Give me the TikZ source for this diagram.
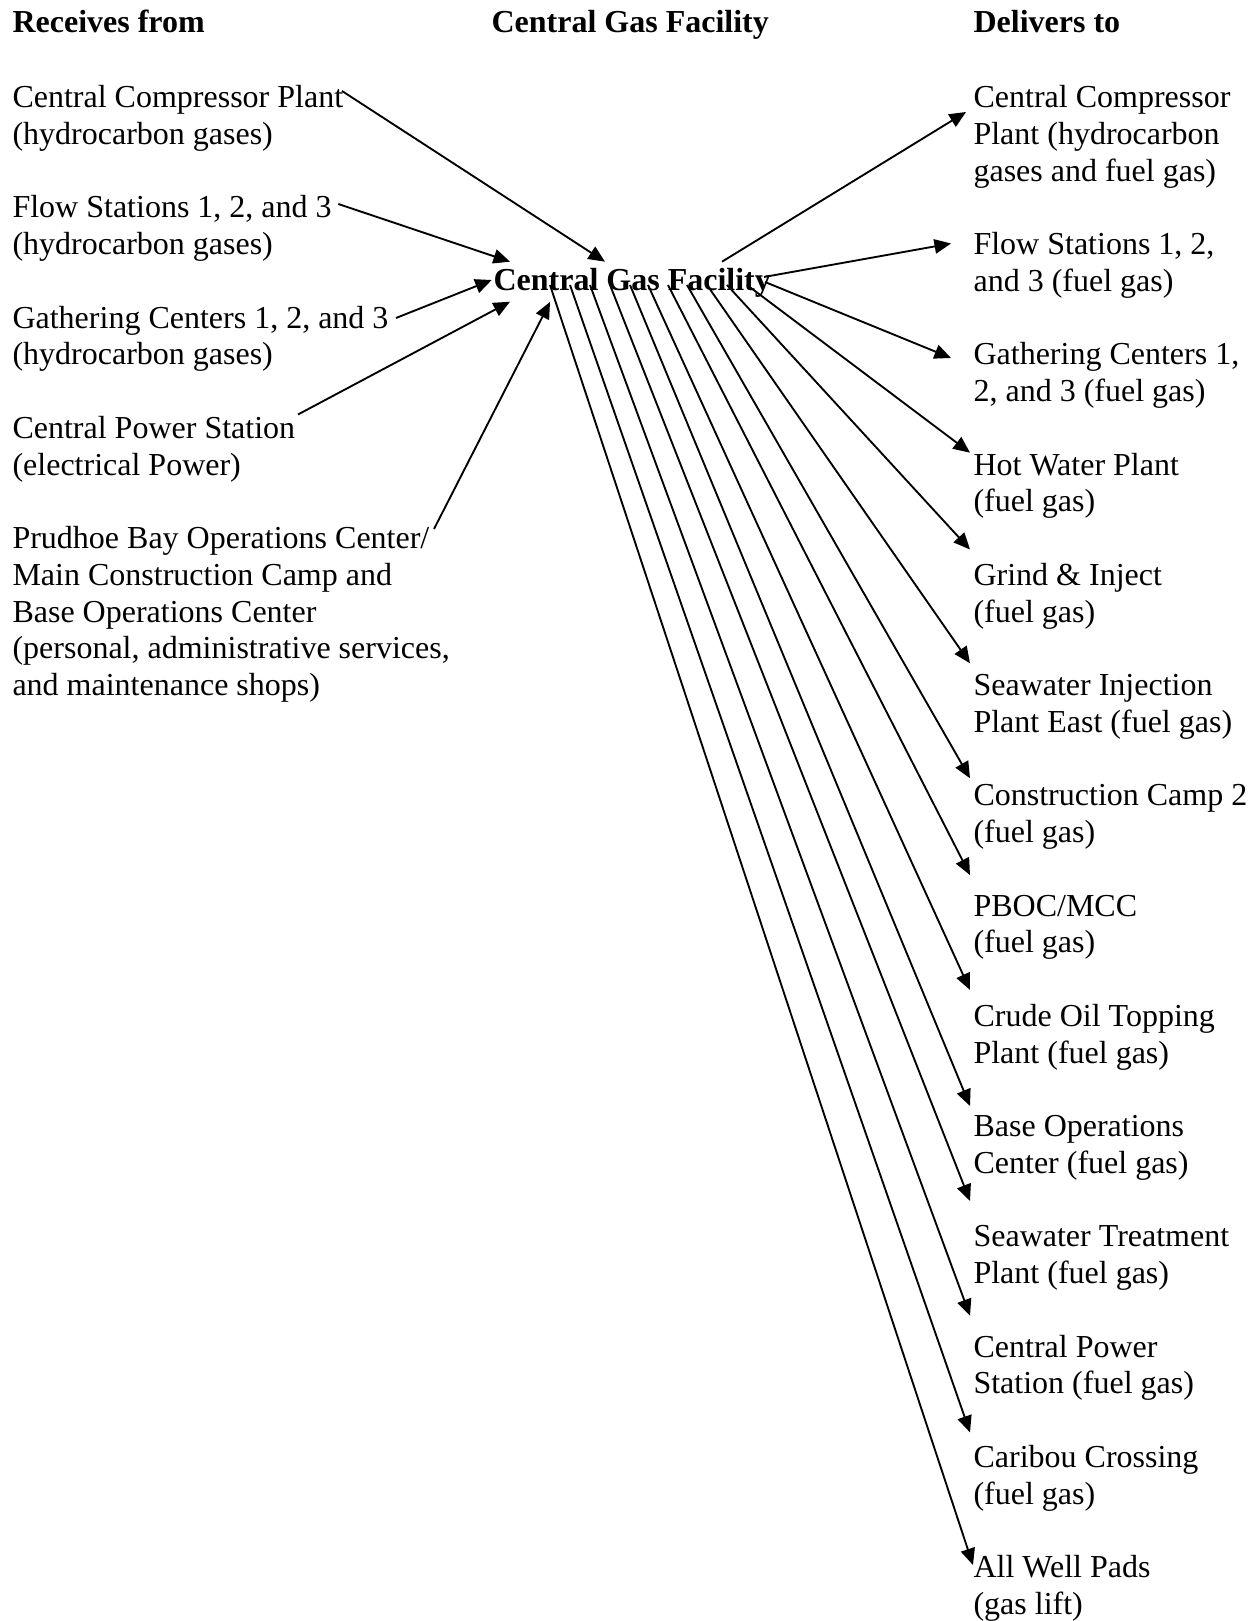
\documentclass[tikz,border=0pt]{standalone}
\usepackage{fontspec}
\setmainfont{Liberation Serif}
\usetikzlibrary{arrows.meta}
\tikzset{
  lbl/.style={anchor=north west, inner sep=0pt, align=left, font=\fontsize{12}{13.78}\selectfont},
  head/.style={anchor=north west, inner sep=0pt, align=left, font=\fontsize{12}{13.78}\selectfont\bfseries},
  flow/.style={line width=0.7pt, -{Triangle[length=6.2pt,width=5.4pt]}}
}
\begin{document}
\begin{tikzpicture}[x=0.375pt, y=-0.375pt]
\useasboundingbox (0,0) rectangle (1257,1621);
% headers (node top = baseline - 25.67)
\node[head] (hRec) at (12,6.3) {\strut Receives from};
\node[head] (hCGF) at (491,6.3) {\strut Central Gas Facility};
\node[head] (hDel) at (973,6.3) {\strut Delivers to};
% left column
\node[lbl] (lCCP) at (12,81.3) {\strut Central Compressor Plant\\(hydrocarbon gases)};
\node[lbl] (lFS) at (12,191.6) {\strut Flow Stations 1, 2, and 3\\(hydrocarbon gases)};
\node[lbl] (lGC) at (12,301.8) {\strut Gathering Centers 1, 2, and 3\\(hydrocarbon gases)};
\node[lbl] (lCPS) at (12,412.1) {\strut Central Power Station\\(electrical Power)};
\node[lbl] (lPB) at (12,522.3) {\strut Prudhoe Bay Operations Center/\\Main Construction Camp and\\Base Operations Center\\(personal, administrative services,\\and maintenance shops)};
% centre
\node[head] (cgf) at (493,264) {\strut Central Gas Facility};
% right column
\node[lbl] (rCCP) at (973,81.3) {\strut Central Compressor\\Plant (hydrocarbon\\gases and fuel gas)};
\node[lbl] (rFS) at (973,228.3) {\strut Flow Stations 1, 2,\\and 3 (fuel gas)};
\node[lbl] (rGC) at (973,338.6) {\strut Gathering Centers 1,\\2, and 3 (fuel gas)};
\node[lbl] (rHW) at (973,448.8) {\strut Hot Water Plant\\(fuel gas)};
\node[lbl] (rGI) at (973,559.1) {\strut Grind \& Inject\\(fuel gas)};
\node[lbl] (rSI) at (973,669.3) {\strut Seawater Injection\\Plant East (fuel gas)};
\node[lbl] (rCC) at (973,779.6) {\strut Construction Camp 2\\(fuel gas)};
\node[lbl] (rPB) at (973,889.8) {\strut PBOC/MCC\\(fuel gas)};
\node[lbl] (rCO) at (973,1000.1) {\strut Crude Oil Topping\\Plant (fuel gas)};
\node[lbl] (rBO) at (973,1110.3) {\strut Base Operations\\Center (fuel gas)};
\node[lbl] (rST) at (973,1220.6) {\strut Seawater Treatment\\Plant (fuel gas)};
\node[lbl] (rCP) at (973,1330.8) {\strut Central Power\\Station (fuel gas)};
\node[lbl] (rCB) at (973,1441.1) {\strut Caribou Crossing\\(fuel gas)};
\node[lbl] (rAW) at (973,1551.3) {\strut All Well Pads\\(gas lift)};
% connector end points
\coordinate (lCCP-o) at (342,91);    \coordinate (cgf-i1) at (605,261.7);
\coordinate (lFS-o) at (338.3,204);  \coordinate (cgf-i2) at (510,261.7);
\coordinate (lGC-o) at (396,318);    \coordinate (cgf-i3) at (491.7,280);
\coordinate (lCPS-o) at (298,414.5); \coordinate (cgf-i4) at (510,301.7);
\coordinate (lPB-o) at (434,529);    \coordinate (cgf-i5) at (550,302);
\coordinate (cgf-o1) at (722,261.7);  \coordinate (rCCP-i) at (966,112);
\coordinate (cgf-o2) at (764,277);    \coordinate (rFS-i) at (951,243.5);
\coordinate (cgf-o3) at (765,282);    \coordinate (rGC-i) at (951,358);
\coordinate (cgf-o4) at (747,285);    \coordinate (rHW-i) at (970,452.7);
\coordinate (cgf-o5) at (727,285);    \coordinate (rGI-i) at (970,549.5);
\coordinate (cgf-o6) at (707,285);    \coordinate (rSI-i) at (970,663.3);
\coordinate (cgf-o7) at (687,285);    \coordinate (rCC-i) at (970,778.3);
\coordinate (cgf-o8) at (668,285);    \coordinate (rPB-i) at (970,875);
\coordinate (cgf-o9) at (648,285);    \coordinate (rCO-i) at (970,990);
\coordinate (cgf-o10) at (630,285);   \coordinate (rBO-i) at (970,1106);
\coordinate (cgf-o11) at (610,285);   \coordinate (rST-i) at (970,1201);
\coordinate (cgf-o12) at (590,285);   \coordinate (rCP-i) at (970,1315.8);
\coordinate (cgf-o13) at (570,285);   \coordinate (rCB-i) at (970,1432.4);
\coordinate (cgf-o14) at (550,285);   \coordinate (rAW-i) at (973,1565);
% incoming
\draw[flow] (lCCP-o) -- (cgf-i1);
\draw[flow] (lFS-o) -- (cgf-i2);
\draw[flow] (lGC-o) -- (cgf-i3);
\draw[flow] (lCPS-o) -- (cgf-i4);
\draw[flow] (lPB-o) -- (cgf-i5);
% outgoing
\draw[flow] (cgf-o1) -- (rCCP-i);
\draw[flow] (cgf-o2) -- (rFS-i);
\draw[flow] (cgf-o3) -- (rGC-i);
\draw[flow] (cgf-o4) -- (rHW-i);
\draw[flow] (cgf-o5) -- (rGI-i);
\draw[flow] (cgf-o6) -- (rSI-i);
\draw[flow] (cgf-o7) -- (rCC-i);
\draw[flow] (cgf-o8) -- (rPB-i);
\draw[flow] (cgf-o9) -- (rCO-i);
\draw[flow] (cgf-o10) -- (rBO-i);
\draw[flow] (cgf-o11) -- (rST-i);
\draw[flow] (cgf-o12) -- (rCP-i);
\draw[flow] (cgf-o13) -- (rCB-i);
\draw[flow] (cgf-o14) -- (rAW-i);
\end{tikzpicture}
\end{document}
